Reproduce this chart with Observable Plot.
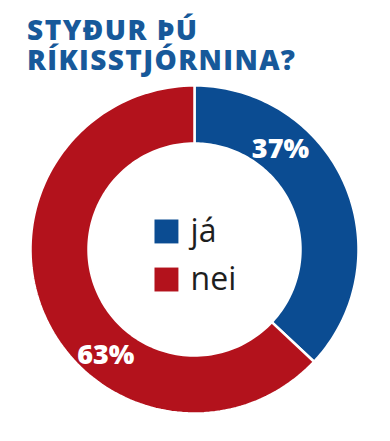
<!DOCTYPE html>
<html><head><meta charset="utf-8">
<script src="https://cdn.jsdelivr.net/npm/d3@7"></script>
<script src="https://cdn.jsdelivr.net/npm/@observablehq/plot@0.6"></script>
<style>
body{margin:0;background:#fff;width:390px;height:441px;overflow:hidden;font-family:"Open Sans",sans-serif}
.tl{position:absolute;left:27px;margin:0;font:800 28px/30px "Open Sans",sans-serif;color:#17599a;white-space:nowrap}
#t1{top:14px}
#t2{top:44px}
#chart{position:absolute;left:0;top:80px}
</style></head><body>
<span class="tl" id="t1">STYÐUR ÞÚ</span>
<span class="tl" id="t2">RÍKISSTJÓRNINA?</span>
<div id="chart"></div>
<script>
const titleLines = ["STYÐUR ÞÚ", "RÍKISSTJÓRNINA?"];
const categories = ["já", "nei"];
const values = [37, 63];
const valueLabels = ["37%", "63%"];
const colors = ["#0b4c92", "#b3121c"];

// fit title line widths to the reference's
[["t1", 170], ["t2", 268]].forEach(([id, target], i) => {
  const el = document.getElementById(id);
  el.textContent = titleLines[i];
  const w = el.getBoundingClientRect().width;
  const n = titleLines[i].length;
  el.style.letterSpacing = ((target - w) / (n - 1)) + "px";
});

const inner = 106 / 164;
const pie = d3.pie().sort(null)(values);

// ring polygons from pie angles
const arcPts = [];
pie.forEach((p, i) => {
  const n = 120, pts = [];
  for (let k = 0; k <= n; k++) {
    const t = p.startAngle + (p.endAngle - p.startAngle) * k / n;
    pts.push({x: Math.sin(t), y: Math.cos(t)});
  }
  for (let k = n; k >= 0; k--) {
    const t = p.startAngle + (p.endAngle - p.startAngle) * k / n;
    pts.push({x: inner * Math.sin(t), y: inner * Math.cos(t)});
  }
  pts.push(pts[0]);
  pts.forEach(q => arcPts.push({...q, cat: categories[i]}));
});

const labelFrac = [0.305, 0.383];
const labelRad = [0.805, 0.84];
const labels = pie.map((p, i) => {
  const t = p.startAngle + (p.endAngle - p.startAngle) * labelFrac[i];
  return {x: labelRad[i] * Math.sin(t), y: labelRad[i] * Math.cos(t), text: valueLabels[i]};
});

const legendY = (d, i) => 0.110 - i * 0.293;

const chart = Plot.plot({
  width: 390,
  height: 361,
  margin: 0,
  x: {domain: [-1, 1], range: [30, 358], axis: null},
  y: {domain: [-1, 1], range: [333, 5], axis: null},
  color: {domain: categories, range: colors},
  style: {fontFamily: "Open Sans, sans-serif", overflow: "visible", background: "white"},
  marks: [
    Plot.line(arcPts, {x: "x", y: "y", z: "cat", fill: "cat", stroke: "white", strokeWidth: 2.5, curve: "linear"}),
    Plot.text(labels, {x: "x", y: "y", text: "text", fill: "white", fontSize: 27, fontWeight: 800}),
    Plot.dot(categories, {x: -0.171, y: legendY, symbol: "square", r: 13.5, fill: d => d}),
    Plot.text(categories, {x: -0.024, y: legendY, text: d => d, textAnchor: "start", fontSize: 32, fill: "#1e1e1e"})
  ]
});
document.getElementById("chart").appendChild(chart);
</script>
</body></html>
